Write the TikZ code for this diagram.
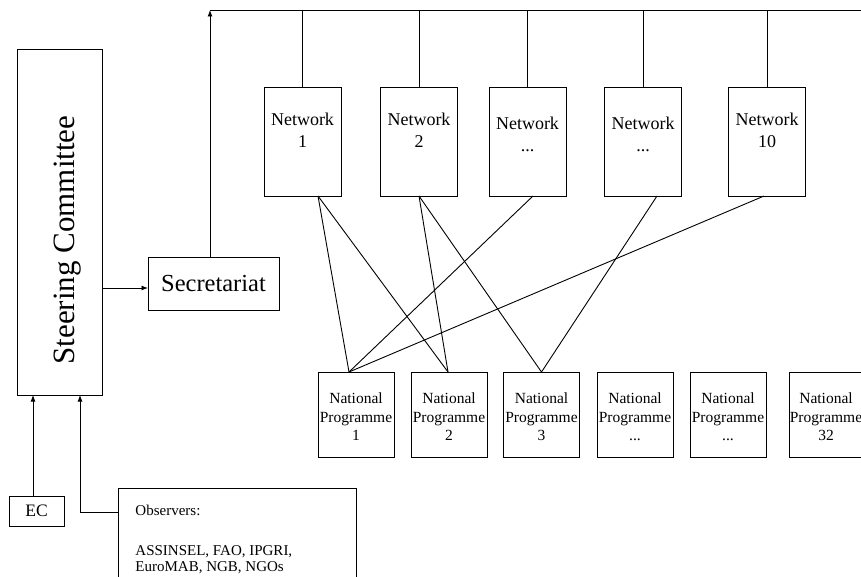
\documentclass[tikz,border=0pt]{standalone}
\usepackage{fontspec}
\setmainfont{Liberation Serif}
\usetikzlibrary{arrows.meta}
\begin{document}
\begin{tikzpicture}[x=1pt,y=-1pt,line width=0.9pt,
  boxn/.style={draw,rectangle,inner sep=0pt,outer sep=0pt},
  netbox/.style={boxn,minimum width=77pt,minimum height=109pt},
  npbox/.style={boxn,minimum width=76pt,minimum height=85pt},
  nettext/.style={anchor=north,inner sep=0pt,align=center,font=\fontsize{18}{22}\selectfont},
  nptext/.style={anchor=north,inner sep=0pt,align=center,font=\fontsize{15.5}{18.5}\selectfont},
  arr/.style={-{Latex[length=6.5pt,width=5pt]}}]
\clip (0,0) rectangle (861,577);
\fill[white] (0,0) rectangle (861,577);

% Steering Committee
\node[boxn,minimum width=85pt,minimum height=346pt] (sc) at (59.5,222) {};
\node[rotate=90,anchor=base,inner sep=0pt,font=\fontsize{31}{36}\selectfont] (sctext) at (74,240) {Steering Committee};

% Secretariat
\node[boxn,minimum width=131pt,minimum height=53pt,font=\fontsize{24.5}{28}\selectfont] (sec) at (213.5,283.5) {Secretariat};
\draw[arr] ([yshift=-4.5pt]sec.west -| sc.east) -- ([yshift=-4.5pt]sec.west);

% top bus
\coordinate (top) at (210,10);
\coordinate (topR) at (865,10);
\draw[arr] ([xshift=-3.5pt]sec.north) -- (top);
\draw (top) -- (topR);

% Networks
\node[netbox] (n1) at (302.5,141.5) {};
\node[netbox] (n2) at (419,141.5) {};
\node[netbox] (n3) at (527.5,141.5) {};
\node[netbox] (n4) at (643,141.5) {};
\node[netbox] (n5) at (767,141.5) {};
\node[nettext] (t1) at (302.5,112.5) {Network\\1};
\node[nettext] (t2) at (419,112.5) {Network\\2};
\node[nettext] (t3) at (527.5,116.5) {Network\\...};
\node[nettext] (t4) at (643,116.5) {Network\\...};
\node[nettext] (t5) at (767,112.5) {Network\\10};
\foreach \n in {n1,n2,n3,n4,n5}{\draw (\n.north) -- (\n.north |- top);}

% National Programmes
\node[npbox] (p1) at (356,414.5) {};
\node[npbox] (p2) at (449,414.5) {};
\node[npbox] (p3) at (541.5,414.5) {};
\node[npbox] (p4) at (635,414.5) {};
\node[npbox] (p5) at (728,414.5) {};
\node[npbox] (p6) at (827,414.5) {};
\node[nptext] (q1) at (356,392.5) {National\\Programme\\1};
\node[nptext] (q2) at (449,392.5) {National\\Programme\\2};
\node[nptext] (q3) at (541.5,392.5) {National\\Programme\\3};
\node[nptext] (q4) at (635,392.5) {National\\Programme\\...};
\node[nptext] (q5) at (728,392.5) {National\\Programme\\...};
\node[nptext] (q6) at (826,392.5) {National\\Programme\\32};

% links
\draw ([xshift=15.5pt]n1.south) -- ([xshift=-7pt]p1.north);
\draw ([xshift=15.5pt]n1.south) -- ([xshift=-1pt]p2.north);
\draw (n2.south) -- ([xshift=-1pt]p2.north);
\draw (n2.south) -- (p3.north);
\draw ([xshift=5.5pt]n3.south) -- ([xshift=-7pt]p1.north);
\draw ([xshift=14pt]n4.south) -- (p3.north);
\draw ([xshift=-3pt]n5.south) -- ([xshift=-7pt]p1.north);

% EC and observers
\node[boxn,minimum width=55pt,minimum height=30pt,font=\fontsize{17.5}{20}\selectfont] (ec) at (36.5,511) {EC};
\draw[arr] ([xshift=-3.5pt]ec.north) -- ([xshift=-3.5pt]ec.north |- sc.south);
\node[boxn,minimum width=238pt,minimum height=112pt] (obs) at (237,544) {};
\node[anchor=north west,inner sep=0pt,align=left,font=\fontsize{15}{16}\selectfont] (obstext) at (135,504.5) {Observers:\\[24pt]ASSINSEL, FAO, IPGRI,\\EuroMAB, NGB, NGOs};
\coordinate (ob) at (80,512);
\draw[arr] (obs.west |- ob) -- (ob) -- (ob |- sc.south);
\end{tikzpicture}
\end{document}
